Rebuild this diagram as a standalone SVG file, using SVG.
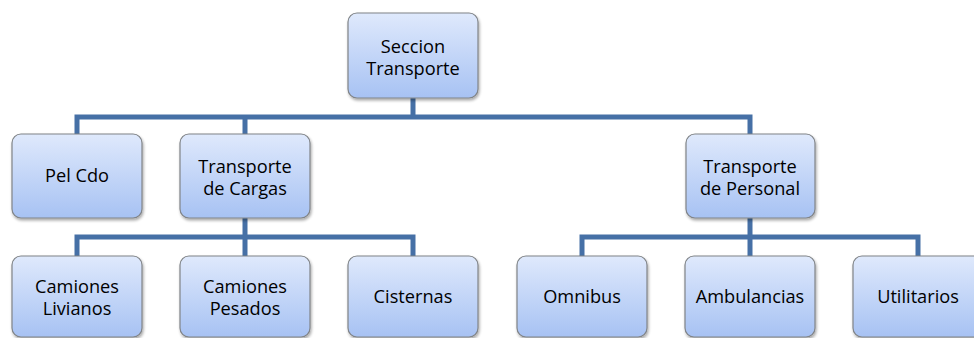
<svg xmlns="http://www.w3.org/2000/svg" width="974" height="338" viewBox="0 0 974 338">
  <defs>
    <linearGradient id="boxFill" x1="0" y1="0" x2="0" y2="1">
      <stop offset="0" stop-color="#dfe9fc"/>
      <stop offset="1" stop-color="#a7c2f3"/>
    </linearGradient>
    <filter id="shadow" x="-10%" y="-10%" width="125%" height="125%">
      <feGaussianBlur in="SourceAlpha" stdDeviation="1.5"/>
      <feOffset dx="1" dy="2" result="b"/>
      <feComponentTransfer><feFuncA type="linear" slope="0.35"/></feComponentTransfer>
      <feMerge><feMergeNode/><feMergeNode in="SourceGraphic"/></feMerge>
    </filter>
  </defs>
  <style>
    .box { fill: url(#boxFill); stroke: #808488; stroke-width: 1.2; filter: url(#shadow); }
    .lbl { font-family: "Open Sans", "Liberation Sans", Arial, sans-serif; font-size: 18.2px; fill: #000; text-anchor: middle; }
    .conn { fill: none; stroke: #4670a6; stroke-width: 5; stroke-linejoin: miter; }
  </style>

  <rect width="974" height="338" fill="#ffffff"/>

  <!-- connectors -->
  <g id="connectors" class="conn">
    <path d="M413 98 V117 M77 134 V117 H750 V134 M245 117 V134"/>
    <path d="M245 218 V237 M77 256 V237 H413 V256 M245 237 V256"/>
    <path d="M750 218 V237 M582 256 V237 H918 V256 M750 237 V256"/>
  </g>

  <!-- top level -->
  <g id="seccion-transporte">
    <rect class="box" x="348" y="13" width="130" height="85" rx="9"/>
    <text class="lbl" x="413" y="53">Seccion</text>
    <text class="lbl" x="413" y="75">Transporte</text>
  </g>

  <!-- second level -->
  <g id="pel-cdo">
    <rect class="box" x="12" y="134" width="130" height="84" rx="9"/>
    <text class="lbl" x="77" y="182">Pel Cdo</text>
  </g>
  <g id="transporte-cargas">
    <rect class="box" x="180" y="134" width="130" height="84" rx="9"/>
    <text class="lbl" x="245" y="173">Transporte</text>
    <text class="lbl" x="245" y="195">de Cargas</text>
  </g>
  <g id="transporte-personal">
    <rect class="box" x="686" y="134" width="129" height="84" rx="9"/>
    <text class="lbl" x="750" y="173">Transporte</text>
    <text class="lbl" x="750" y="195">de Personal</text>
  </g>

  <!-- third level -->
  <g id="camiones-livianos">
    <rect class="box" x="12" y="256" width="130" height="81" rx="9"/>
    <text class="lbl" x="77" y="293">Camiones</text>
    <text class="lbl" x="77" y="315">Livianos</text>
  </g>
  <g id="camiones-pesados">
    <rect class="box" x="180" y="256" width="130" height="81" rx="9"/>
    <text class="lbl" x="245" y="293">Camiones</text>
    <text class="lbl" x="245" y="315">Pesados</text>
  </g>
  <g id="cisternas">
    <rect class="box" x="348" y="256" width="130" height="81" rx="9"/>
    <text class="lbl" x="413" y="303">Cisternas</text>
  </g>
  <g id="omnibus">
    <rect class="box" x="517" y="256" width="130" height="81" rx="9"/>
    <text class="lbl" x="582" y="303">Omnibus</text>
  </g>
  <g id="ambulancias">
    <rect class="box" x="685" y="256" width="130" height="81" rx="9"/>
    <text class="lbl" x="750" y="303">Ambulancias</text>
  </g>
  <g id="utilitarios">
    <rect class="box" x="853" y="256" width="130" height="81" rx="9"/>
    <text class="lbl" x="918" y="303">Utilitarios</text>
  </g>
</svg>
